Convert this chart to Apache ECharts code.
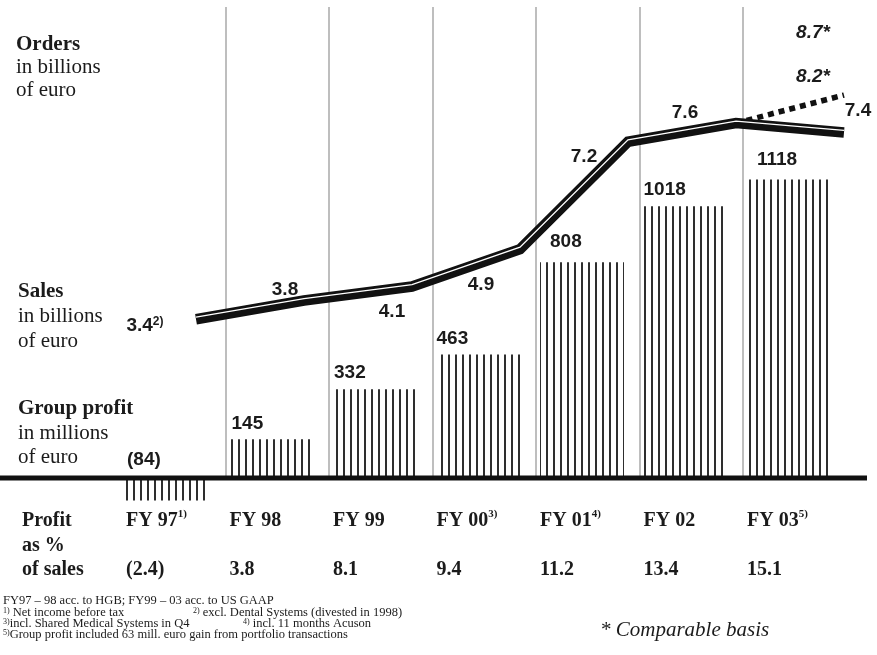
<!DOCTYPE html>
<html>
<head>
<meta charset="utf-8">
<script src="https://cdn.jsdelivr.net/npm/echarts@6/dist/echarts.min.js"></script>
<style>
  html, body { margin: 0; padding: 0; background: #ffffff; }
  #chart { width: 877px; height: 655px; }
</style>
</head>
<body>
<div id="chart"></div>
<script>
// Fiscal years and their footnote markers
const years = ['FY 97', 'FY 98', 'FY 99', 'FY 00', 'FY 01', 'FY 02', 'FY 03'];
const yearNotes = ['1)', '', '', '3)', '4)', '', '5)'];

// Sales in billions of euro
const salesBn = [3.4, 3.8, 4.1, 4.9, 7.2, 7.6, 7.4];
const salesNotes = ['2)', '', '', '', '', '', ''];
// Comparable-basis sales (FY 02 -> FY 03)
const comparableSalesBn = [null, null, null, null, null, 7.6, 8.2];
// Comparable-basis orders for FY 03 (annotation only)
const comparableOrdersBn = 8.7;

// Group profit in millions of euro
const groupProfitMn = [-84, 145, 332, 463, 808, 1018, 1118];

// Profit as % of sales
const profitPct = ['(2.4)', '3.8', '8.1', '9.4', '11.2', '13.4', '15.1'];

// ---- styling ----
const SERIF = "'Liberation Serif', 'Times New Roman', serif";
const SANS = "'Liberation Sans', Arial, sans-serif";
const INK = '#1b1b1b';

// label placement around the line vertices (pixels)
const salesLabelOffset = [[-51, 7], [-19, -10.5], [-20, 25.5], [-39, 36], [-44, 15], [-51, -10], [14, -22]];
// label placement above the bar tops (pixels, relative to bar's top-left)
const profitLabelPos = [[1, -18], [2, -16], [1, -17], [0, -16], [10, -20], [0, -16], [10, -19.5]];

// vertical hatch used to fill the profit bars
const hatch = document.createElement('canvas');
hatch.width = 7; hatch.height = 10;
const hctx = hatch.getContext('2d');
hctx.fillStyle = '#2e2e2e';
hctx.fillRect(0, 0, 2, 10);

const chart = echarts.init(document.getElementById('chart'), null, { renderer: 'canvas' });

const hiddenCat = (gridIndex, boundaryGap) => ({
  type: 'category', gridIndex, data: years, show: false, boundaryGap
});
const hiddenVal = (gridIndex, min, max) => ({
  type: 'value', gridIndex, min, max, show: false
});

const numText = { fontFamily: SANS, fontWeight: 'bold', fontSize: 19, color: INK };

// rich styles for the serif captions
const captionRich = (lh, size) => ({
  b: { fontFamily: SERIF, fontWeight: 'bold', fontSize: size, lineHeight: lh, color: INK },
  r: { fontFamily: SERIF, fontWeight: 'normal', fontSize: size, lineHeight: lh, color: INK }
});
const noteRich = {
  t: { fontFamily: SERIF, fontWeight: 'normal', fontSize: 12.5, lineHeight: 11.3, color: INK },
  s: { fontFamily: SERIF, fontWeight: 'normal', fontSize: 8, lineHeight: 8, verticalAlign: 'top', color: INK }
};

const option = {
  animation: false,
  backgroundColor: '#ffffff',
  title: [
    {
      left: 16, top: 33.75, padding: 0,
      text: '{b|Orders}\n{r|in billions}\n{r|of euro}',
      textStyle: { fontWeight: 'normal', rich: captionRich(22.5, 21) }
    },
    {
      left: 18, top: 279.75, padding: 0,
      text: '{b|Sales}\n{r|in billions}\n{r|of euro}',
      textStyle: { fontWeight: 'normal', rich: captionRich(24.5, 21) }
    },
    {
      left: 18, top: 397, padding: 0,
      text: '{b|Group profit}\n{r|in millions}\n{r|of euro}',
      textStyle: { fontWeight: 'normal', rich: captionRich(24, 21) }
    },
    {
      left: 22, top: 508.75, padding: 0,
      text: '{b|Profit}\n{b|as %}\n{b|of sales}',
      textStyle: { fontWeight: 'normal', rich: captionRich(24.5, 20) }
    },
    {
      left: 3, top: 595.3, padding: 0,
      text: '{t|FY97 – 98 acc. to HGB; FY99 – 03 acc. to US GAAP}\n' +
            '{s|1)}{t| Net income before tax}\n' +
            '{s|3)}{t|incl. Shared Medical Systems in Q4}\n' +
            '{s|5)}{t|Group profit included 63 mill. euro gain from portfolio transactions}',
      textStyle: { fontWeight: 'normal', rich: noteRich }
    },
    {
      left: 193, top: 606.6, padding: 0,
      text: '{s|2)}{t| excl. Dental Systems (divested in 1998)}',
      textStyle: { fontWeight: 'normal', rich: noteRich }
    },
    {
      left: 243, top: 617.9, padding: 0,
      text: '{s|4)}{t| incl. 11 months Acuson}',
      textStyle: { fontWeight: 'normal', rich: noteRich }
    },
    {
      left: 600, top: 618, padding: 0,
      text: '* Comparable basis',
      textStyle: { fontFamily: SERIF, fontStyle: 'italic', fontWeight: 'normal', fontSize: 21, lineHeight: 24, color: INK }
    }
  ],
  grid: [
    { left: 122, width: 724.5, top: 7, height: 471, containLabel: false, outerBoundsMode: 'none' },      // year dividers
    { left: 116.25, width: 724.5, top: 157.6, height: 373.8, containLabel: false, outerBoundsMode: 'none' }, // profit bars
    { left: 196, width: 648, top: 11, height: 467, containLabel: false, outerBoundsMode: 'none' },        // sales line
    { left: 196, width: 648, top: 9, height: 467, containLabel: false, outerBoundsMode: 'none' },         // inner stripe of the sales line
    { left: 74.25, width: 724.5, top: 477, height: 1, containLabel: false, outerBoundsMode: 'none' }     // year / percentage labels
  ],
  xAxis: [
    {
      type: 'category', gridIndex: 0, data: years, boundaryGap: true,
      axisLine: { show: false }, axisTick: { show: false }, axisLabel: { show: false },
      splitLine: { show: true, showMinLine: false, showMaxLine: false, interval: 0,
        lineStyle: { color: '#a9a9a9', width: 1.5 } }
    },
    hiddenCat(1, true),
    hiddenCat(2, false),
    hiddenCat(3, false),
    {
      type: 'category', gridIndex: 4, data: years, boundaryGap: true, position: 'bottom',
      axisLine: { show: false }, axisTick: { show: false }, splitLine: { show: false },
      axisLabel: {
        show: true, interval: 0, margin: 31, align: 'left', verticalAlign: 'top',
        formatter: (value, idx) =>
          '{fy|' + value + '}' + (yearNotes[idx] ? '{sup|' + yearNotes[idx] + '}' : '') +
          '\n{pct|' + profitPct[idx] + '}',
        rich: {
          fy: { fontFamily: SERIF, fontWeight: 'bold', fontSize: 20, lineHeight: 24, color: INK },
          sup: { fontFamily: SERIF, fontWeight: 'bold', fontSize: 11, lineHeight: 12, verticalAlign: 'top', color: INK },
          pct: { fontFamily: SERIF, fontWeight: 'bold', fontSize: 20, lineHeight: 74, color: INK }
        }
      }
    }
  ],
  yAxis: [
    hiddenVal(0, 0, 1),
    hiddenVal(1, -200, 1200),
    hiddenVal(2, 0, 10),
    hiddenVal(3, 0, 10),
    hiddenVal(4, 0, 1)
  ],
  series: [
    {
      name: 'Group profit',
      type: 'bar', xAxisIndex: 1, yAxisIndex: 1, barWidth: 84, z: 2,
      itemStyle: { color: { image: hatch, repeat: 'repeat' } },
      data: groupProfitMn.map((v, i) => ({
        value: v,
        label: { position: profitLabelPos[i] }
      })),
      label: {
        show: true, align: 'left', verticalAlign: 'middle',
        ...numText,
        formatter: p => (p.value < 0 ? '(' + (-p.value) + ')' : String(p.value))
      }
    },
    {
      name: 'Sales comparable',
      type: 'line', xAxisIndex: 2, yAxisIndex: 2, z: 3,
      symbol: 'circle', symbolSize: 1, showSymbol: true,
      itemStyle: { color: 'rgba(0,0,0,0)' },
      lineStyle: { color: '#111111', width: 5.5, type: [6, 5] },
      data: comparableSalesBn.map((v, i) => ({
        value: v,
        label: { show: i === comparableSalesBn.length - 1 }
      })),
      label: {
        position: 'inside', offset: [-31, -18],
        fontFamily: SANS, fontWeight: 'bold', fontStyle: 'italic', fontSize: 19, color: INK,
        formatter: p => p.value + '*'
      }
    },
    {
      name: 'Sales',
      type: 'line', xAxisIndex: 2, yAxisIndex: 2, z: 4,
      symbol: 'circle', symbolSize: 1, showSymbol: true,
      itemStyle: { color: 'rgba(0,0,0,0)' },
      lineStyle: { color: '#111111', width: 10.5, join: 'miter', miterLimit: 10 },
      data: salesBn.map((v, i) => ({
        value: v,
        label: { offset: salesLabelOffset[i] }
      })),
      label: {
        show: true, position: 'inside',
        formatter: p => '{v|' + p.value.toFixed(1) + '}' +
          (salesNotes[p.dataIndex] ? '{s|' + salesNotes[p.dataIndex] + '}' : ''),
        rich: {
          v: { ...numText, lineHeight: 22 },
          s: { fontFamily: SANS, fontWeight: 'bold', fontSize: 12, lineHeight: 12, verticalAlign: 'top', color: INK }
        }
      }
    },
    {
      name: 'Sales stripe',
      type: 'line', xAxisIndex: 3, yAxisIndex: 3, z: 5, silent: true,
      symbol: 'none',
      lineStyle: { color: '#ffffff', width: 1.3, join: 'miter', miterLimit: 10 },
      data: salesBn
    }
  ]
};

chart.setOption(option);

// zero line of the profit bars, running across the whole chart
const zeroY = chart.convertToPixel({ yAxisIndex: 1 }, 0);
// orders annotation stacked above the comparable-sales label
const fy03 = chart.convertToPixel({ xAxisIndex: 2, yAxisIndex: 2 }, [years.length - 1, comparableSalesBn[years.length - 1]]);

chart.setOption({
  graphic: [
    {
      type: 'rect', z: 10,
      shape: { x: 0, y: zeroY - 2.5, width: 867, height: 5 },
      style: { fill: '#111111' }
    },
    {
      type: 'text', z: 10,
      x: fy03[0] - 31, y: fy03[1] - 62,
      style: {
        text: comparableOrdersBn + '*',
        font: 'italic bold 19px ' + SANS,
        fill: INK, align: 'center', verticalAlign: 'middle'
      }
    }
  ]
});
</script>
</body>
</html>
